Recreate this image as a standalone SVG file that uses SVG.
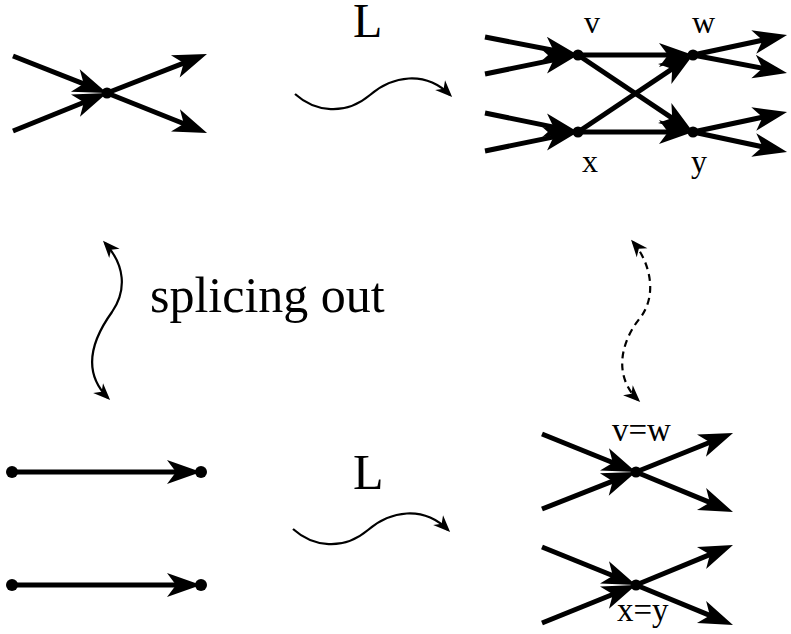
<svg xmlns="http://www.w3.org/2000/svg" width="791" height="634" viewBox="0 0 791 634">
<defs>
<style>
.e{stroke:#000;stroke-width:5;fill:none;marker-end:url(#ah)}
.c{stroke:#000;stroke-width:2.2;fill:none}
.d{fill:#000}
.t{font-family:"Liberation Serif","Times New Roman",serif;fill:#000}
</style>
<marker id="ah" markerUnits="userSpaceOnUse" orient="auto" refX="0" refY="0" markerWidth="60" markerHeight="40" style="overflow:visible">
<path d="M12,0 L-22,-12 L-13,0 L-22,12 z" fill="#000"/>
</marker>
<marker id="sh" markerUnits="userSpaceOnUse" orient="auto-start-reverse" refX="0" refY="0" markerWidth="30" markerHeight="20" style="overflow:visible">
<path d="M3,0 L-14,-7 L-9,0 L-14,7 z" fill="#000"/>
</marker>
</defs>
<rect width="791" height="634" fill="#fff"/>

<g id="connectors">
<path class="e" d="M13,56 L95.8,88.6"/>
<path class="e" d="M13,131 L95.9,97.5"/>
<path class="e" d="M107,93 L195.8,58.4"/>
<path class="e" d="M107,93 L195.9,128.5"/>
<path class="e" d="M485,37 L566.2,52.7"/>
<path class="e" d="M485,74 L566.2,57.4"/>
<path class="e" d="M485,113 L566.2,129.6"/>
<path class="e" d="M485,151 L566.2,134.4"/>
<path class="e" d="M578,55 L681,55"/>
<path class="e" d="M578,132 L683,61.7"/>
<path class="e" d="M578,55 L683,125.3"/>
<path class="e" d="M578,132 L681,132"/>
<path class="e" d="M693,55 L775.3,37.5"/>
<path class="e" d="M693,55 L775.2,70.7"/>
<path class="e" d="M693,132 L775.3,114.5"/>
<path class="e" d="M693,132 L775.3,149.5"/>
<path class="e" d="M12,472 L189,472"/>
<path class="e" d="M12,585 L189,585"/>
<path class="e" d="M542,434 L624.9,467.5"/>
<path class="e" d="M542,509 L624.8,476.4"/>
<path class="e" d="M636,472 L721.9,437.5"/>
<path class="e" d="M636,472 L721.9,507.4"/>
<path class="e" d="M542,547 L624.9,580.5"/>
<path class="e" d="M542,623 L624.9,589.5"/>
<path class="e" d="M636,585 L721.9,549.6"/>
<path class="e" d="M636,585 L721.9,620.4"/>
<path class="c" marker-end="url(#sh)" d="M295,94 C315,112 345,116 370,95 C392,76 425,70 450,95"/>
<path class="c" marker-end="url(#sh)" d="M293,529 C313,547 343,551 368,530 C390,511 423,505 448,530"/>
<path class="c" marker-start="url(#sh)" marker-end="url(#sh)" d="M105,243 C125,265 127,290 112,312 C94,337 80,370 108,398"/>
<path class="c" marker-start="url(#sh)" marker-end="url(#sh)" stroke-dasharray="7,5" d="M633,242 C650,262 658,295 640,318 C622,340 612,375 638,400"/>
</g>

<g id="node-tl"><circle class="d" cx="107" cy="93" r="5.5"/></g>
<g id="node-v"><circle class="d" cx="578" cy="55" r="5.5"/><text class="t" x="584" y="33" font-size="32">v</text></g>
<g id="node-w"><circle class="d" cx="693" cy="55" r="5.5"/><text class="t" x="692" y="33" font-size="32">w</text></g>
<g id="node-x"><circle class="d" cx="578" cy="132" r="5.5"/><text class="t" x="582" y="172" font-size="32">x</text></g>
<g id="node-y"><circle class="d" cx="693" cy="132" r="5.5"/><text class="t" x="691" y="172" font-size="32">y</text></g>
<g id="node-bl1"><circle class="d" cx="12" cy="472" r="6"/><circle class="d" cx="201" cy="472" r="6"/></g>
<g id="node-bl2"><circle class="d" cx="12" cy="585" r="6"/><circle class="d" cx="201" cy="585" r="6"/></g>
<g id="node-vw"><circle class="d" cx="636" cy="472" r="5.5"/><text class="t" x="612" y="441" font-size="33">v=w</text></g>
<g id="node-xy"><circle class="d" cx="636" cy="585" r="5.5"/><text class="t" x="617" y="621" font-size="33">x=y</text></g>

<g id="labels">
<text class="t" x="353" y="37" font-size="48">L</text>
<text class="t" x="353" y="489" font-size="50">L</text>
<text class="t" x="150" y="312" font-size="50">splicing out</text>
</g>
</svg>
